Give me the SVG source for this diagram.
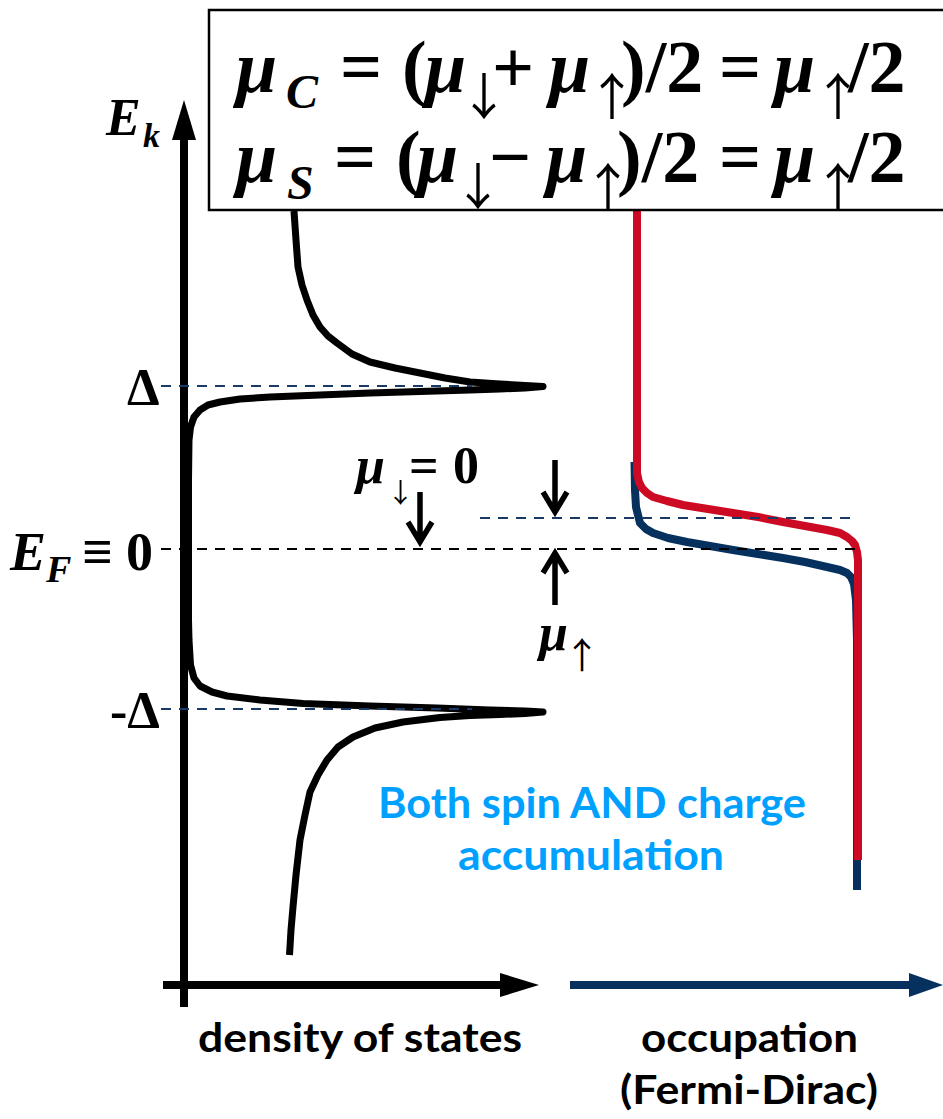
<svg xmlns="http://www.w3.org/2000/svg" width="943" height="1119" viewBox="0 0 943 1119">
<style>
.m{font-family:"Liberation Serif","Times New Roman",serif;font-weight:bold;fill:#000}
.i{font-style:italic}
.ar{font-family:"Noto Sans CJK JP","Noto Sans CJK SC",sans-serif;font-weight:normal;font-style:normal;fill:#000}
.lbl{font-family:Lato,"Liberation Sans",sans-serif;font-weight:bold;fill:#000}
.blue-t{font-family:Lato,"Liberation Sans",sans-serif;font-weight:bold;fill:#00a0ff}
.ax{stroke:#000;stroke-width:8;fill:none}
.dos{stroke:#000;stroke-width:7;fill:none;stroke-linejoin:round;stroke-linecap:butt}
.dashk{stroke:#000;stroke-width:2;stroke-dasharray:10 8;fill:none}
.dashb{stroke:#1a3a66;stroke-width:2;stroke-dasharray:10 8;fill:none}
.arr{stroke:#000;stroke-width:5.5;fill:none;stroke-linejoin:miter}
.fdr{stroke:#cc0a23;stroke-width:8;fill:none;stroke-linejoin:round}
.fdb{stroke:#06315f;stroke-width:8;fill:none;stroke-linejoin:round}
</style>
<rect width="943" height="1119" fill="#fff"/>

<g id="connectors">
  <line class="ax" x1="184" y1="138" x2="184" y2="1007"/>
  <polygon points="184,100 172,140 196,140" fill="#000"/>
  <line class="ax" x1="163" y1="985" x2="502" y2="985"/>
  <polygon points="539,985 500,973 500,997" fill="#000"/>
  <line x1="570" y1="985" x2="911" y2="985" stroke="#06315f" stroke-width="8"/>
  <polygon points="943,985 909,973 909,997" fill="#06315f"/>
</g>

<g id="fermi-dirac">
  <path class="fdb" d="M634.5,462 L635,490 L636,507 L640,523 L646,529 L653,533 L668,538 L687,542 L710,546 L733,550 L758,554 L783,558 L805,562 L827,567 L840,570 L847,573 L851,577 L854,584 L856,600 L857,640 L857,890"/>
  <path class="fdr" d="M637,211 L637,473 L639,482 L642,488 L647,493 L653,497 L667,501 L683,505 L708,509 L733,513 L758,517 L783,522 L805,526 L827,530 L840,533 L847,537 L852,541 L855,545 L857,552 L858,560 L858,860"/>
</g>

<g id="dos-curve">
  <path class="dos" d="M294,211 L296,240 L298,267 L302,285 L307,300 L313,315 L320,327 L328,336 L337,343 L352,354 L370,362 L395,368 L420,373 L445,378 L470,382 L500,384 L525,385.5 L543,386.5 L525,388 L500,389 L470,390 L420,391.5 L370,393 L320,395 L270,397 L240,399 L220,402 L208,405 L200,410 L194,417 L190.5,427 L189,440 L188.5,480 L188.5,620 L189,640 L190.5,665 L194,678 L200,686 L212,692 L227,696 L260,700 L303,703.5 L370,706 L437,708 L490,710 L525,711 L543,712 L525,713.5 L500,714.5 L470,715.5 L440,717.5 L403,722 L375,728 L353,737 L338,747 L327,760 L318,775 L310,792 L305,815 L300,840 L296,875 L293,907 L291,930 L289.5,955"/>
</g>

<g id="levels">
  <line class="dashb" x1="161" y1="386" x2="472" y2="386"/>
  <line class="dashb" x1="161" y1="709" x2="472" y2="709"/>
  <line class="dashk" x1="161" y1="549" x2="858" y2="549"/>
  <line class="dashb" x1="480" y1="518" x2="856" y2="518"/>
</g>

<g id="mu-arrows">
  <path class="arr" d="M420,492 L420,540 M408,522 L420,542 L432,522"/>
  <path class="arr" d="M555,460 L555,509 M543,492 L555,512 L567,492"/>
  <path class="arr" d="M555,605 L555,556 M543,573 L555,553 L567,573"/>
</g>

<g id="formula-box">
  <rect x="209" y="10" width="745" height="200" fill="#fff" stroke="#000" stroke-width="2.5"/>
  <text class="m" font-size="74">
    <tspan class="i" x="236" y="92">μ</tspan><tspan class="i" x="286" y="108" font-size="48">C</tspan><tspan x="340" y="92">=</tspan><tspan x="402" y="92">(</tspan><tspan class="i" x="425" y="92">μ</tspan><tspan class="ar" x="459" y="115" font-size="50">↓</tspan><tspan x="492" y="92">+</tspan><tspan class="i" x="549" y="92">μ</tspan><tspan class="ar" x="587" y="115" font-size="50">↑</tspan><tspan x="621" y="92">)/2</tspan><tspan x="719" y="92">=</tspan><tspan class="i" x="774" y="92">μ</tspan><tspan class="ar" x="813" y="115" font-size="50">↑</tspan><tspan x="848" y="92">/2</tspan>
  </text>
  <text class="m" font-size="74">
    <tspan class="i" x="236" y="182">μ</tspan><tspan class="i" x="287" y="199" font-size="48">S</tspan><tspan x="334" y="182">=</tspan><tspan x="396" y="182">(</tspan><tspan class="i" x="417" y="182">μ</tspan><tspan class="ar" x="453" y="205" font-size="50">↓</tspan><tspan x="489" y="182">−</tspan><tspan class="i" x="546" y="182">μ</tspan><tspan class="ar" x="583" y="205" font-size="50">↑</tspan><tspan x="617" y="182">)/2</tspan><tspan x="719" y="182">=</tspan><tspan class="i" x="774" y="182">μ</tspan><tspan class="ar" x="813" y="205" font-size="50">↑</tspan><tspan x="848" y="182">/2</tspan>
  </text>
</g>

<g id="axis-labels">
  <text class="m" font-size="52"><tspan class="i" x="106" y="135">E</tspan><tspan class="i" x="143" y="147" font-size="34">k</tspan></text>
  <text class="m" font-size="52" x="127" y="405">Δ</text>
  <text class="m" font-size="52" x="110" y="728">-Δ</text>
  <text class="m" font-size="54"><tspan class="i" x="10" y="570">E</tspan><tspan class="i" x="46" y="582" font-size="38">F</tspan><tspan x="82" y="570">≡</tspan><tspan x="126" y="570">0</tspan></text>
</g>

<g id="mu-labels">
  <text class="m" font-size="52"><tspan class="i" x="356" y="483">μ</tspan><tspan class="ar" x="387" y="503" font-size="27">↓</tspan><tspan x="409" y="483">=</tspan><tspan x="453" y="483">0</tspan></text>
  <text class="m" font-size="52"><tspan class="i" x="539" y="650">μ</tspan><tspan class="ar" x="564" y="669" font-size="36">↑</tspan></text>
</g>

<g id="note">
  <text class="blue-t" font-size="42" x="378" y="818" textLength="428" lengthAdjust="spacingAndGlyphs">Both spin AND charge</text>
  <text class="blue-t" font-size="42" x="458" y="870" textLength="266" lengthAdjust="spacingAndGlyphs">accumulation</text>
</g>

<g id="bottom-labels">
  <text class="lbl" font-size="41" x="198" y="1052" textLength="324" lengthAdjust="spacingAndGlyphs">density of states</text>
  <text class="lbl" font-size="41" x="641" y="1052" textLength="217" lengthAdjust="spacingAndGlyphs">occupation</text>
  <text class="lbl" font-size="41" x="620" y="1104" textLength="258" lengthAdjust="spacingAndGlyphs">(Fermi-Dirac)</text>
</g>
</svg>
